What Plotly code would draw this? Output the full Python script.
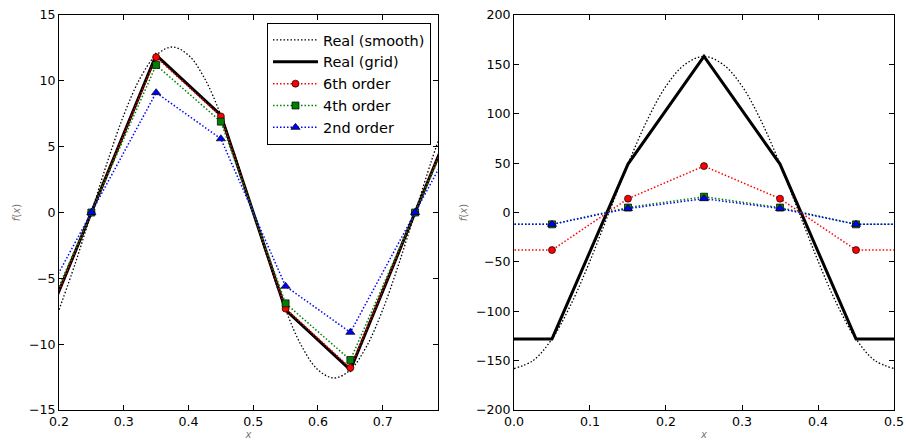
import plotly.graph_objects as go
from plotly.subplots import make_subplots

# ---------------- left panel data ----------------
left_smooth_x = [0.2, 0.225, 0.25, 0.275, 0.3, 0.325, 0.35, 0.375, 0.4, 0.425, 0.45, 0.475,
                 0.5, 0.525, 0.55, 0.575, 0.6, 0.625, 0.65, 0.675, 0.7, 0.725, 0.75, 0.775, 0.7854]
left_smooth_y = [-7.39, -3.88, 0.0, 3.88, 7.39, 10.17, 11.95, 12.57, 11.95, 10.17, 7.39, 3.88,
                 0.0, -3.88, -7.39, -10.17, -11.95, -12.57, -11.95, -10.17, -7.39, -3.88, 0.0, 3.88, 5.4]
left_grid_x = [0.15, 0.25, 0.35, 0.45, 0.55, 0.65, 0.75, 0.85]
left_real_grid = [-11.95, 0.0, 11.95, 7.39, -7.39, -11.95, 0.0, 11.95]
left_6th = [-11.8, 0.0, 11.8, 7.3, -7.3, -11.8, 0.0, 11.8]
left_4th = [-11.2, 0.0, 11.2, 6.9, -6.9, -11.2, 0.0, 11.2]
left_2nd = [-9.1, 0.0, 9.1, 5.6, -5.6, -9.1, 0.0, 9.1]

# ---------------- right panel data ----------------
right_smooth_x = [0.0, 0.025, 0.05, 0.075, 0.1, 0.125, 0.15, 0.175, 0.2, 0.225, 0.25,
                  0.275, 0.3, 0.325, 0.35, 0.375, 0.4, 0.425, 0.45, 0.475, 0.5]
right_smooth_y = [-158, -150, -128, -93, -49, 0, 49, 93, 128, 150, 158,
                  150, 128, 93, 49, 0, -49, -93, -128, -150, -158]
right_grid_x = [-0.05, 0.05, 0.15, 0.25, 0.35, 0.45, 0.55]
right_real_grid = [-128, -128, 49, 158, 49, -128, -128]
right_6th = [-38, -38, 14, 47, 14, -38, -38]
right_4th = [-12, -12, 5, 16, 5, -12, -12]
right_2nd = [-12, -12, 4, 14, 4, -12, -12]

names = ["Real (smooth)", "Real (grid)", "6th order", "4th order", "2nd order"]
colors = ["#ff0000", "#008000", "#0000ff"]
symbols = ["circle", "square", "triangle-up"]
msizes = [7, 7, 8]
DOT = "1.5px,2px"

fig = make_subplots(rows=1, cols=2, horizontal_spacing=0.0909)


def add_panel(col, sx, sy, gx, greal, approx, show):
    fig.add_trace(go.Scatter(x=sx, y=sy, mode="lines", name=names[0], showlegend=show,
                             line=dict(color="black", width=1.3, dash=DOT, shape="spline")),
                  row=1, col=col)
    fig.add_trace(go.Scatter(x=gx, y=greal, mode="lines", name=names[1], showlegend=show,
                             line=dict(color="black", width=3)),
                  row=1, col=col)
    for i, ys in enumerate(approx):
        fig.add_trace(go.Scatter(x=gx, y=ys, mode="lines+markers", name=names[2 + i],
                                 showlegend=show,
                                 line=dict(color=colors[i], width=1.5, dash=DOT),
                                 marker=dict(color=colors[i], symbol=symbols[i], size=msizes[i],
                                             line=dict(color="black", width=0.7))),
                      row=1, col=col)


add_panel(1, left_smooth_x, left_smooth_y, left_grid_x, left_real_grid,
          [left_6th, left_4th, left_2nd], True)
add_panel(2, right_smooth_x, right_smooth_y, right_grid_x, right_real_grid,
          [right_6th, right_4th, right_2nd], False)

axis_common = dict(showgrid=False, zeroline=False, showline=True, linecolor="black",
                   linewidth=1, mirror="ticks", ticks="inside", ticklen=5,
                   tickcolor="black", tickfont=dict(size=12.6, color="black"),
                   automargin=False)

fig.update_xaxes(**axis_common)
fig.update_yaxes(**axis_common)

xt = dict(text="<i>x</i>", font=dict(size=10, color="#777"), standoff=4)
yt = dict(text="<i>f</i>(<i>x</i>)", font=dict(size=10, color="#777"), standoff=6)

fig.update_xaxes(range=[0.2, 0.785398], tickvals=[0.2, 0.3, 0.4, 0.5, 0.6, 0.7],
                 tickformat=".1f", title=xt, row=1, col=1)
fig.update_yaxes(range=[-15, 15], tickvals=[-15, -10, -5, 0, 5, 10, 15],
                 title=yt, row=1, col=1)
fig.update_xaxes(range=[0, 0.5], tickvals=[0, 0.1, 0.2, 0.3, 0.4, 0.5],
                 tickformat=".1f", title=xt, row=1, col=2)
fig.update_yaxes(range=[-200, 200], tickvals=[-200, -150, -100, -50, 0, 50, 100, 150, 200],
                 title=yt, row=1, col=2)

fig.update_layout(
    width=906, height=440,
    margin=dict(l=59, r=12, t=15, b=30),
    paper_bgcolor="white", plot_bgcolor="white",
    font=dict(family="DejaVu Sans", color="black"),
    xaxis=dict(domain=[0, 0.4539]),
    xaxis2=dict(domain=[0.5449, 1]),
    legend=dict(x=0.4455, y=0.9797, xanchor="right", yanchor="top",
                bordercolor="black", borderwidth=1, bgcolor="white",
                itemwidth=45, tracegroupgap=0,
                font=dict(size=14.5, family="DejaVu Sans")),
)

fig.write_html("out.html")
